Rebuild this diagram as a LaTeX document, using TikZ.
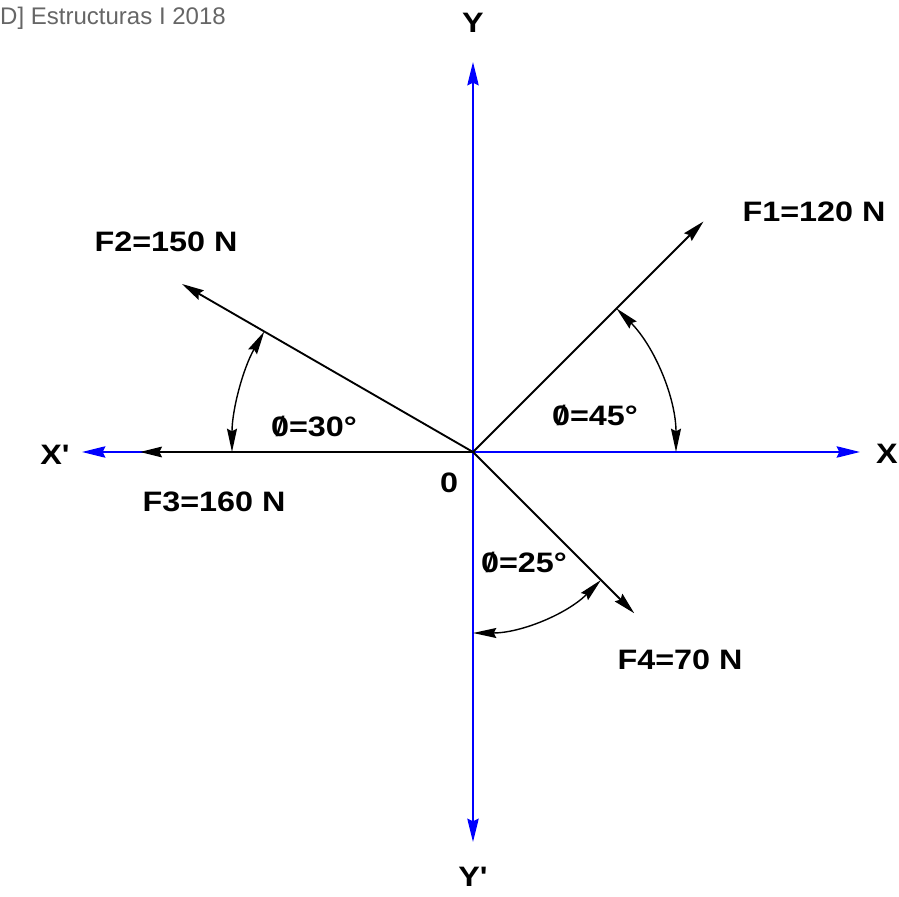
\documentclass[tikz,border=0pt]{standalone}
\usepackage{fontspec}
\setmainfont{Liberation Sans}
\newfontfamily\widefont[FakeStretch=1.15]{Liberation Sans}
\usetikzlibrary{arrows.meta,positioning}
\newcommand{\phizero}{\ooalign{0\cr\hidewidth{\mdseries/}\hidewidth\cr}}
\newcommand{\prm}{\char"27}

\begin{document}
\begin{tikzpicture}[
    x=0.03cm, y=0.03cm,
    axis/.style={-{Stealth[length=0.7cm, width=0.34cm, inset=0.08cm]}, line width=1.5pt, draw=blue},
    force/.style={-{Stealth[length=0.66cm, width=0.32cm, inset=0.08cm]}, line width=1.6pt, draw=black},
    anglearc/.style={{Stealth[length=0.7cm, width=0.3cm, inset=0.08cm]}-{Stealth[length=0.7cm, width=0.3cm, inset=0.08cm]}, line width=1.2pt},
    label/.style={font=\widefont\fontsize{24}{27}\selectfont\bfseries},
    header/.style={font=\fontsize{20.5}{24}\selectfont, text=black!60},
]

\useasboundingbox (-473, -444) rectangle (426, 452);

\node[header, anchor=west, inner sep=0pt] (title) at (-473, 434) {D] Estructuras I 2018};

% Origin and end points
\coordinate (O) at (0, 0);
\coordinate (Xend) at (387, 0);
\coordinate (Xpend) at (-391, 0);
\coordinate (Yend) at (0, 390);
\coordinate (Ypend) at (0, -390);
\coordinate (F1end) at (45:326);
\coordinate (F2end) at (150:336);
\coordinate (F3end) at (-333, 0);
\coordinate (F4end) at (-45:228);

% Axes
\draw[axis] (O) -- (Xend);
\draw[axis] (O) -- (Xpend);
\draw[axis] (O) -- (Yend);
\draw[axis] (O) -- (Ypend);

\node[label] (X) at (414, -2) {X};
\node[label] (Xp) at (-418, -3) {X\prm};
\node[label] (Y) at (0, 429) {Y};
\node[label] (Yp) at (0, -425) {Y\prm};
\node[label] (zero) at (-24, -31) {0};

% Forces
\draw[force] (O) -- (F3end);
\draw[force] (O) -- (F1end);
\draw[force] (O) -- (F2end);
\draw[force] (O) -- (F4end);

\node[label] (F1) at (341, 240) {F1=120 N};
\node[label] (F2) at (-307, 210) {F2=150 N};
\node[label] (F3) at (-259, -50) {F3=160 N};
\node[label] (F4) at (207, -208) {F4=70 N};

% Angles
\draw[anglearc] ([shift={(0:203)}]O) arc[start angle=0, end angle=45, radius=203];
\draw[anglearc] ([shift={(180:241)}]O) arc[start angle=180, end angle=150, radius=241];
\draw[anglearc] ([shift={(270:181)}]O) arc[start angle=270, end angle=315, radius=181];

\node[label] (a1) at (122, 36) {\phizero=45°};
\node[label] (a2) at (-159, 25) {\phizero=30°};
\node[label] (a4) at (51, -111) {\phizero=25°};

\end{tikzpicture}
\end{document}
